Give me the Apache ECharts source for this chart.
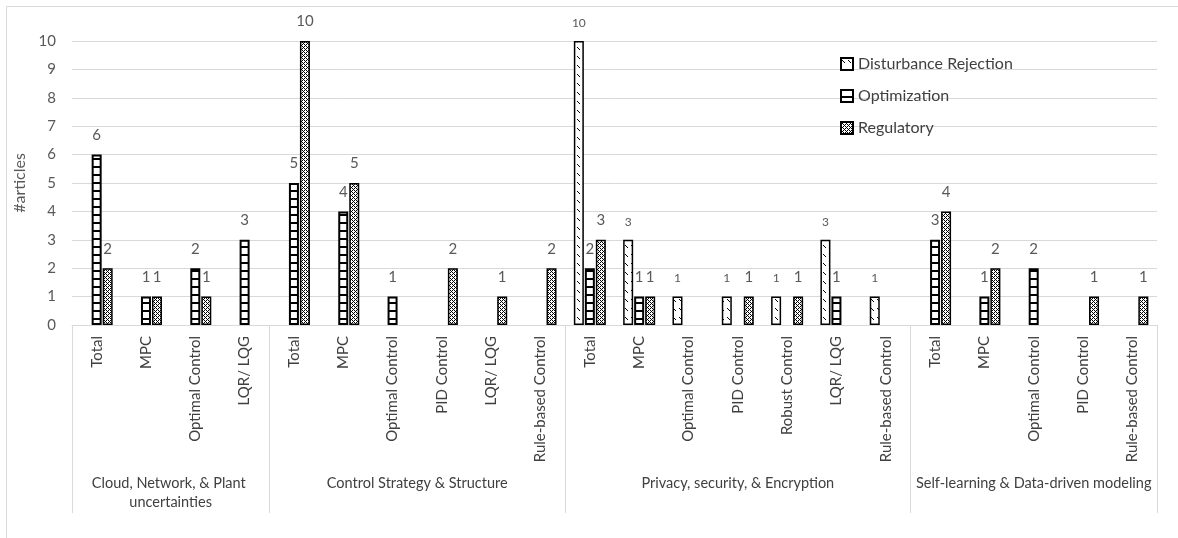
<!DOCTYPE html>
<html><head><meta charset="utf-8">
<script src="https://cdn.jsdelivr.net/npm/echarts@6/dist/echarts.min.js"></script>
<style>html,body{margin:0;padding:0;background:#fff}#c{width:1178px;height:538px}</style>
</head><body><div id="c"></div>
<script>
const groupNames = ['Cloud, Network, & Plant uncertainties', 'Control Strategy & Structure', 'Privacy, security, & Encryption', 'Self-learning & Data-driven modeling'];
const groupCats = [
  ['Total', 'MPC', 'Optimal Control', 'LQR/ LQG'],
  ['Total', 'MPC', 'Optimal Control', 'PID Control', 'LQR/ LQG', 'Rule-based Control'],
  ['Total', 'MPC', 'Optimal Control', 'PID Control', 'Robust Control', 'LQR/ LQG', 'Rule-based Control'],
  ['Total', 'MPC', 'Optimal Control', 'PID Control', 'Rule-based Control']
];
const seriesNames = ['Disturbance Rejection', 'Optimization', 'Regulatory'];
const disturbance = [null, null, null, null,  null, null, null, null, null, null,  10, 3, 1, 1, 1, 3, 1,  null, null, null, null, null];
const optimization = [6, 1, 2, 3,  5, 4, 1, null, null, null,  2, 1, null, null, null, 1, null,  3, 1, 2, null, null];
const regulatory = [2, 1, 1, null,  10, 5, null, 2, 1, 2,  3, 1, null, 1, 1, null, null,  4, 2, null, 1, 1];
const yTicks = [0, 1, 2, 3, 4, 5, 6, 7, 8, 9, 10];

const categories = [];
groupCats.forEach(g => g.forEach(c => categories.push(c)));

function pattern(kind) {
  const c = document.createElement('canvas');
  const ctx = c.getContext('2d');
  if (kind === 'dr') {
    c.width = 6; c.height = 9;
    ctx.fillStyle = '#fff'; ctx.fillRect(0, 0, 6, 9);
    ctx.fillStyle = '#000';
    ctx.fillRect(1, 2, 1, 1); ctx.fillRect(2, 3, 1, 1); ctx.fillRect(3, 4, 1, 1);
  } else if (kind === 'opt') {
    c.width = 8; c.height = 8;
    ctx.fillStyle = '#fff'; ctx.fillRect(0, 0, 8, 8);
    ctx.fillStyle = '#000'; ctx.fillRect(0, 6, 8, 2);
  } else {
    c.width = 4; c.height = 4;
    ctx.fillStyle = '#fff'; ctx.fillRect(0, 0, 4, 4);
    ctx.fillStyle = '#000';
    [[0,0],[2,0],[1,1],[0,2],[2,2],[3,3]].forEach(p => ctx.fillRect(p[0], p[1], 1, 1));
  }
  return { image: c, repeat: 'repeat' };
}
const fills = [pattern('dr'), pattern('opt'), pattern('reg')];
const labelSizes = [12, 15, 15];
const borderWidths = [1.5, 2, 1.5];

const chart = echarts.init(document.getElementById('c'), null, { renderer: 'canvas' });
const FONT = 'Lato, "Open Sans", sans-serif';

const option = {
  animation: false,
  textStyle: { fontFamily: FONT },
  grid: { left: 72, right: 21, top: 41, bottom: 213, containLabel: false },
  legend: {
    orient: 'vertical', left: 835, top: 51, itemWidth: 12, itemHeight: 12, itemGap: 16,
    icon: 'rect',
    textStyle: { fontSize: 16, color: '#404040', fontFamily: FONT },
    data: seriesNames
  },
  xAxis: {
    type: 'category', data: categories,
    axisLine: { lineStyle: { color: '#d9d9d9', width: 1 } },
    axisTick: { show: false },
    axisLabel: { rotate: 90, interval: 0, margin: 11, fontSize: 15, color: '#404040', fontFamily: FONT }
  },
  yAxis: {
    type: 'value', min: 0, max: 10, interval: 1,
    name: '#articles', nameLocation: 'middle', nameGap: 38,
    nameTextStyle: { fontSize: 16, color: '#595959', fontFamily: FONT },
    axisLine: { show: false }, axisTick: { show: false },
    axisLabel: { fontSize: 15, color: '#595959', margin: 16, fontFamily: FONT,
      formatter: v => (yTicks.indexOf(v) >= 0 ? String(v) : '') },
    splitLine: { lineStyle: { color: '#d9d9d9', width: 1 } }
  },
  series: [disturbance, optimization, regulatory].map((d, i) => ({
    name: seriesNames[i], type: 'bar', data: d, barWidth: 10, barGap: '10%',
    itemStyle: { color: fills[i], borderColor: '#000', borderWidth: borderWidths[i] },
    label: { show: true, position: 'top', distance: 12, fontSize: labelSizes[i], color: '#595959', fontFamily: FONT }
  }))
};
chart.setOption(option);

// group labels and separators placed through the axis scale
const p0 = chart.convertToPixel({ xAxisIndex: 0 }, 0);
const p1 = chart.convertToPixel({ xAxisIndex: 0 }, 1);
const band = p1 - p0;
const axisY = chart.convertToPixel({ yAxisIndex: 0 }, 0);
const graphics = [];
let start = 0;
const boundaries = [start];
groupCats.forEach(g => { start += g.length; boundaries.push(start); });
boundaries.forEach(b => {
  const x = Math.round(p0 - band / 2 + b * band) + 0.5;
  graphics.push({ type: 'line', shape: { x1: x, y1: axisY, x2: x, y2: axisY + 188 }, style: { stroke: '#d9d9d9', lineWidth: 1 }, silent: true });
});
groupNames.forEach((n, i) => {
  const a = boundaries[i], b = boundaries[i + 1];
  const cx = p0 - band / 2 + (a + b) / 2 * band;
  graphics.push({ type: 'text', x: cx, y: axisY + 149, style: {
    text: n, width: (b - a) * band + 6, overflow: 'break', lineHeight: 19,
    align: 'center', verticalAlign: 'top', fontSize: 14.5, fill: '#404040', fontFamily: FONT
  }, silent: true });
});
graphics.push({ type: 'rect', shape: { x: 6.5, y: 6.5, width: 1250, height: 600 }, style: { fill: null, stroke: '#d9d9d9', lineWidth: 1 }, silent: true, z: -1 });
chart.setOption({ graphic: graphics });
</script></body></html>
